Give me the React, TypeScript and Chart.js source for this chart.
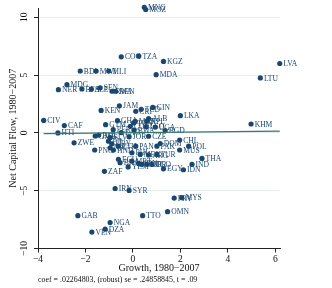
import React, { useEffect, useRef } from "react";
import { Chart, registerables } from "chart.js";

Chart.register(...registerables);

const countries = [
  "MNG", "MOZ", "COG", "TZA", "KGZ", "LVA", "LTU", "BDI", "MWI", "MLI", "MDA",
  "MDG", "NER", "BFA", "SLE", "SEN", "RWA", "BEN", "KEN", "JAM", "CRI", "TCD",
  "GIN", "LKA", "KHM", "CIV", "CAF", "HTI", "ZWE", "PNG", "ZAF", "IRN", "SYR",
  "GAB", "NGA", "DZA", "VEN", "TTO", "OMN", "PRY", "MYS",
  "GHA", "GTM", "MAR", "ALB", "NPL", "COL", "PER", "BWA", "LSO", "UGA", "BGD",
  "GMB", "BOL", "SLV", "JOR", "CZE", "FJI", "URY", "NIC", "HND", "ETH", "PAN",
  "PAK", "DOM", "CHL", "POL", "MUS", "PHL", "MEX", "ARG", "TUR", "THA", "IND",
  "IDN", "EGY", "ECU", "BRA", "YEM", "MRT", "SDN", "CMR", "KOR", "TGO", "TUN",
  "LAO",
];

const growth = [
  0.48, 0.54, -0.49, 0.25, 1.29, 6.19, 5.37, -2.22, -1.55, -1.02, 0.98,
  -2.78, -3.14, -2.15, -1.75, -1.38, -0.88, -0.73, -1.34, -0.57, 0.12, 0.35,
  0.84, 2.0, 4.98, -3.76, -2.89, -3.16, -2.48, -1.61, -1.2, -0.75, -0.16,
  -2.32, -0.96, -1.17, -1.73, 0.41, 1.46, 1.74, 2.06,
  -0.65, -1.15, 0.1, 0.66, 0.59, -0.11, -0.83, 0.05, 0.56, 0.94, 1.36,
  -1.59, -1.44, -0.96, -0.16, 0.66, -1.03, -0.89, -0.96, -0.82, -0.62, 0.12,
  1.01, 1.15, 1.97, 2.35, 1.97, -0.04, 0.31, 0.66, 1.01, 2.91, 2.49,
  2.13, 1.29, -0.61, -0.54, -0.2, -0.04, 0.24, 0.38, 0.59, 0.8, 0.03,
  -0.49,
];

const capitalFlow = [
  10.86, 10.67, 6.58, 6.64, 6.18, 6.0, 4.75, 5.35, 5.35, 5.35, 5.03,
  4.17, 3.74, 3.8, 3.78, 3.9, 3.6, 3.6, 1.94, 2.34, 1.87, 2.04,
  2.2, 1.49, 0.77, 1.08, 0.63, 0.0, -0.86, -1.48, -3.32, -4.81, -4.98,
  -7.16, -7.76, -8.33, -8.58, -7.16, -6.81, -5.64, -5.6,
  1.06, 0.71, 1.0, 1.23, 1.01, 0.57, 0.28, 0.24, 0.54, 0.5, 0.2,
  -0.27, -0.19, -0.4, -0.34, -0.29, -0.72, -0.94, -1.29, -1.49, -1.15, -1.15,
  -1.15, -0.92, -0.62, -1.15, -1.48, -1.72, -1.86, -1.91, -1.86, -2.21, -2.72,
  -3.19, -3.11, -2.29, -2.58, -2.94, -2.44, -2.64, -2.72, -2.72, -2.72, 0.86,
  0.03,
];

const fitGrowth = [-3.76, 6.19];
const fitFlow = [-0.07, 0.15];

const xTickValues = [-4, -2, 0, 2, 4, 6];
const xTickLabels = ["\u22124", "\u22122", "0", "2", "4", "6"];
const yTickValues = [-10, -5, 0, 5, 10];
const yTickLabels = ["\u221210", "\u22125", "0", "5", "10"];

const xTitle = "Growth, 1980\u22122007";
const yTitle = "Net Capital Flow, 1980\u22122007";
const caption = "coef = .02264803, (robust) se = .24858845, t = .09";

const NAVY = "#1a476f";
const INK = "#111111";
const FONT = "'Liberation Serif', 'Times New Roman', serif";

const pointLabelPlugin = {
  id: "pointLabels",
  afterDatasetDraw(chart: any, args: any) {
    if (args.index !== 1) return;
    const meta = chart.getDatasetMeta(1);
    const ctx = chart.ctx;
    ctx.save();
    ctx.font = `7.6px ${FONT}`;
    ctx.fillStyle = NAVY;
    ctx.textAlign = "left";
    ctx.textBaseline = "middle";
    meta.data.forEach((pt: any, i: number) => {
      ctx.fillText(countries[i], pt.x + 3.6, pt.y + 0.6);
    });
    ctx.restore();
  },
};

export default function App() {
  const ref = useRef<HTMLCanvasElement | null>(null);

  useEffect(() => {
    document.body.style.margin = "0";
    const canvas = ref.current;
    if (!canvas) return;
    const scatterData = growth.map((g, i) => ({ x: g, y: capitalFlow[i] }));
    const fitData = fitGrowth.map((g, i) => ({ x: g, y: fitFlow[i] }));

    const chart = new Chart(canvas, {
      type: "scatter",
      data: {
        datasets: [
          {
            label: "Fitted values",
            data: fitData,
            showLine: true,
            borderColor: "#34786a",
            borderWidth: 1.2,
            pointRadius: 0,
            fill: false,
          } as any,
          {
            label: "Net capital flow",
            data: scatterData,
            pointRadius: 2.6,
            pointBackgroundColor: NAVY,
            pointBorderColor: NAVY,
            pointBorderWidth: 0,
            clip: false,
          } as any,
        ],
      },
      options: {
        animation: false,
        responsive: false,
        devicePixelRatio: 1,
        layout: { padding: { top: 8, right: 52, left: 0, bottom: 0 } },
        plugins: {
          legend: { display: false },
          tooltip: { enabled: false },
          title: {
            display: true,
            position: "bottom",
            align: "start",
            fullSize: false,
            text: caption,
            color: INK,
            font: { family: FONT, size: 7.9, weight: "normal" as any },
            padding: { top: 2, bottom: 3 },
          },
        },
        scales: {
          x: {
            type: "linear",
            min: -4,
            max: 6.2,
            afterBuildTicks: (s: any) => {
              s.ticks = xTickValues.map((v) => ({ value: v }));
            },
            afterFit: (s: any) => {
              s.height = 25;
            },
            ticks: {
              autoSkip: false,
              maxRotation: 0,
              padding: 1,
              color: INK,
              font: { family: FONT, size: 9.5 },
              callback: (v: any) => {
                const k = xTickValues.indexOf(Number(v));
                return k >= 0 ? xTickLabels[k] : "";
              },
            },
            grid: {
              display: true,
              drawOnChartArea: false,
              drawTicks: true,
              tickLength: 4,
              tickColor: "#222",
              tickWidth: 1,
            },
            border: { display: true, color: "#222", width: 1 },
            title: {
              display: true,
              text: xTitle,
              color: INK,
              font: { family: FONT, size: 10 },
              padding: { top: 0, bottom: -1 },
            },
          },
          y: {
            type: "linear",
            min: -10,
            max: 10.8,
            afterBuildTicks: (s: any) => {
              s.ticks = yTickValues.map((v) => ({ value: v }));
            },
            afterFit: (s: any) => {
              s.width = 38;
            },
            ticks: {
              autoSkip: false,
              minRotation: 90,
              maxRotation: 90,
              crossAlign: "center",
              padding: 2,
              color: INK,
              font: { family: FONT, size: 9.5 },
              callback: (v: any) => {
                const k = yTickValues.indexOf(Number(v));
                return k >= 0 ? yTickLabels[k] : "";
              },
            },
            grid: {
              display: true,
              drawOnChartArea: true,
              color: "#e6edf0",
              lineWidth: 1,
              drawTicks: true,
              tickLength: 4,
              tickColor: "#222",
              tickWidth: 1,
            },
            border: { display: true, color: "#222", width: 1 },
            title: {
              display: true,
              text: yTitle,
              color: INK,
              font: { family: FONT, size: 10 },
              padding: { top: 7, bottom: 0 },
            },
          },
        },
      },
      plugins: [pointLabelPlugin],
    });
    return () => chart.destroy();
  }, []);

  return (
    <div style={{ width: 332, height: 288 }}>
      <canvas ref={ref} width={332} height={288} style={{ display: "block" }} />
    </div>
  );
}
